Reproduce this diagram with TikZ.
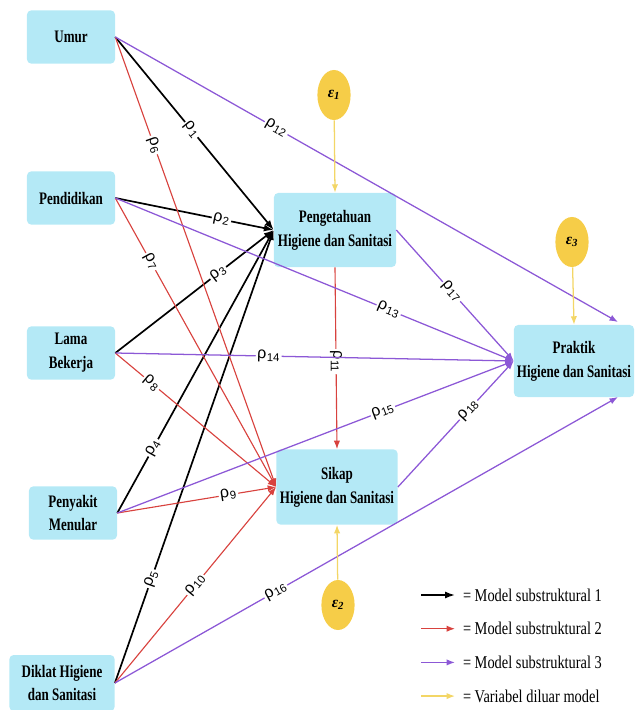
\documentclass[tikz,border=0pt]{standalone}
\usepackage{fontspec}
\setmainfont{Liberation Serif}
\newfontfamily\boxfont[FakeStretch=0.74]{Liberation Serif}
\newfontfamily\legfont[FakeStretch=0.8]{Liberation Serif}
\newfontfamily\rhofont{Liberation Sans}
\usetikzlibrary{arrows.meta,shapes.geometric}

\definecolor{boxcyan}{RGB}{180,233,246}
\definecolor{epsgold}{RGB}{246,205,72}
\definecolor{epsline}{RGB}{243,214,102}
\definecolor{modelred}{RGB}{216,66,62}
\definecolor{modelpurple}{RGB}{140,88,214}

\newcommand{\rh}[1]{{\rhofont\fontsize{11.5}{12}\selectfont ρ\kern0.4pt\textsubscript{#1}}}
\newcommand{\eps}[1]{{\fontsize{11}{11}\selectfont\bfseries\itshape ε\textsubscript{#1}}}

\begin{document}
\begin{tikzpicture}[x=0.025cm, y=-0.025cm,
    box/.style={rectangle, rounded corners=3pt, fill=boxcyan, align=center,
        font=\boxfont\bfseries\fontsize{12.5}{17}\selectfont,
        minimum width=2.2cm, minimum height=1.33cm, inner sep=1pt},
    bigbox/.style={box, minimum width=3.03cm, minimum height=1.85cm},
    errnode/.style={ellipse, fill=epsgold, minimum width=0.83cm, minimum height=1.25cm, inner sep=0pt},
    blk/.style={draw=black, line width=1.2pt, -{Latex[length=7pt,width=5pt]}},
    rd/.style={draw=modelred, line width=0.8pt, -{Latex[length=6pt,width=4.5pt]}},
    pu/.style={draw=modelpurple, line width=0.9pt, -{Latex[length=6pt,width=4.5pt]}},
    yl/.style={draw=epsline, line width=0.9pt, -{Latex[length=6pt,width=4.5pt]}},
    coef/.style={sloped, fill=white, inner sep=1pt},
    legtxt/.style={anchor=west, inner xsep=5.5pt, inner ysep=1pt, font=\legfont\fontsize{12.8}{14}\selectfont}]

    \useasboundingbox (0,0) rectangle (640,710);

    % Exogenous variables
    \node[box] (umur) at (71,37) {Umur};
    \node[box] (pendidikan) at (71,198) {Pendidikan};
    \node[box] (lama) at (71,353) {Lama\\Bekerja};
    \node[box] (penyakit) at (73,513) {Penyakit\\Menular};
    \node[box, minimum width=2.63cm, minimum height=1.4cm] (diklat) at (62,683) {Diklat Higiene\\dan Sanitasi};

    % Endogenous variables
    \node[bigbox, minimum width=3.05cm] (peng) at (335,230) {Pengetahuan\\Higiene dan Sanitasi};
    \node[bigbox, minimum height=1.88cm] (sikap) at (337,487) {Sikap\\Higiene dan Sanitasi};
    \node[bigbox, minimum width=3.0cm, minimum height=1.8cm] (praktik) at (574,361) {Praktik\\Higiene dan Sanitasi};

    % Residuals
    \node[errnode] (e1) at (334,95) {\eps{1}};
    \node[errnode] (e3) at (572,242) {\eps{3}};
    \node[errnode] (e2) at (338,605) {\eps{2}};

    \coordinate (pkne) at (618,322);
    \coordinate (pkse) at (618,397);

    % Model substruktural 1
    \draw[blk] (umur.east) -- node[coef, pos=0.48] {\rh{1}} (peng.west);
    \draw[blk] (pendidikan.east) -- node[coef, pos=0.67] {\rh{2}} (peng.west);
    \draw[blk] (lama.east) -- node[coef, pos=0.65] {\rh{3}} (peng.west);
    \draw[blk] (penyakit.east) -- node[coef, pos=0.23] {\rh{4}} (peng.west);
    \draw[blk] (diklat.east) -- node[coef, pos=0.23] {\rh{5}} (peng.west);

    % Model substruktural 2
    \draw[rd] (umur.east) -- node[coef, pos=0.24] {\rh{6}} (sikap.west);
    \draw[rd] (pendidikan.east) -- node[coef, pos=0.22] {\rh{7}} (sikap.west);
    \draw[rd] (lama.east) -- node[coef, pos=0.225] {\rh{8}} (sikap.west);
    \draw[rd] (penyakit.east) -- node[coef, pos=0.70] {\rh{9}} (sikap.west);
    \draw[rd] (diklat.east) -- node[coef, pos=0.5] {\rh{10}} (sikap.west);
    \draw[rd] (peng.south) -- node[fill=white, inner sep=1pt, rotate=-90, pos=0.52] {\rh{11}} (sikap.north);

    % Model substruktural 3
    \draw[pu] (umur.east) -- node[coef, pos=0.32] {\rh{12}} (pkne);
    \draw[pu] (pendidikan.east) -- node[coef, pos=0.686] {\rh{13}} (praktik.west);
    \draw[pu] (lama.east) -- node[coef, pos=0.385] {\rh{14}} (praktik.west);
    \draw[pu] (penyakit.east) -- node[coef, pos=0.67] {\rh{15}} (praktik.west);
    \draw[pu] (diklat.east) -- node[coef, pos=0.32] {\rh{16}} (pkse);
    \draw[pu] (peng.east) -- node[coef, pos=0.47] {\rh{17}} (praktik.west);
    \draw[pu] (sikap.east) -- node[coef, pos=0.61] {\rh{18}} (praktik.west);

    % Variabel diluar model
    \draw[yl] (e1) -- (peng.north);
    \draw[yl] (e3) -- (praktik.north);
    \draw[yl] (e2) -- (sikap.south);

    % Legend
    \foreach \c/\t [count=\i] in {blk/Model substruktural 1, rd/Model substruktural 2,
                                  pu/Model substruktural 3, yl/Variabel diluar model} {
        \node[legtxt] (leg\i) at (455, {595+33.7*(\i-1)}) {= \t};
        \coordinate (legs\i) at (421, {595+33.7*(\i-1)});
        \draw[\c] (legs\i) -- (leg\i.west);
    }
\end{tikzpicture}
\end{document}
